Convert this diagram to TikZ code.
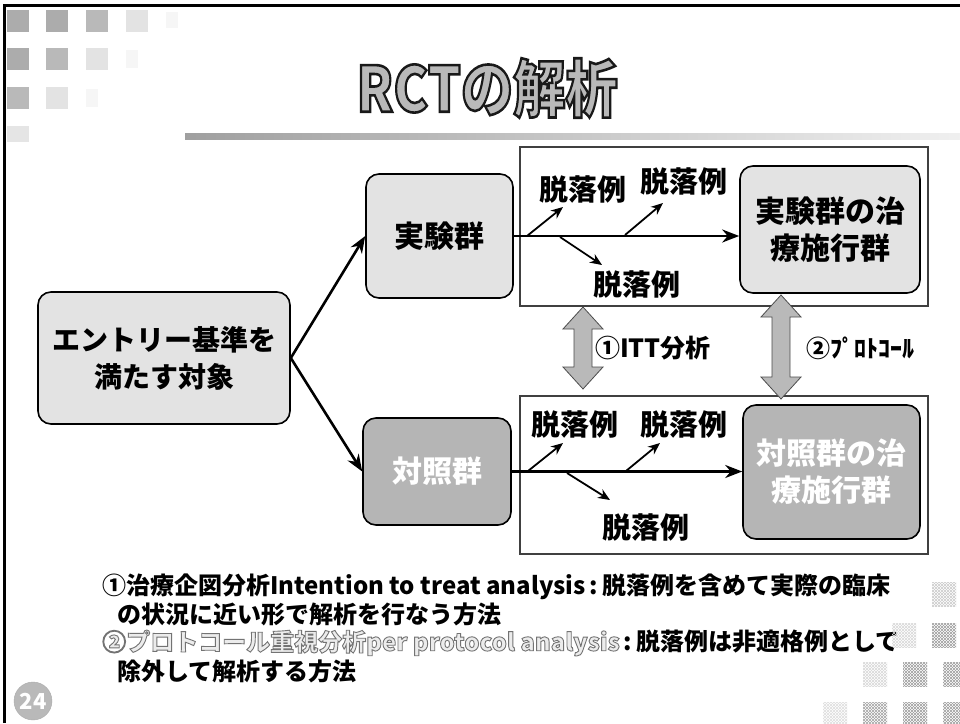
\documentclass[tikz,border=0pt]{standalone}
\usepackage{fontspec}
\usepackage{graphicx}
\setmainfont{Noto Sans CJK JP}
\usetikzlibrary{arrows.meta,patterns,calc}
\newcommand\outlinetxt[3]{% #1 stroke gray level, #2 stroke width, #3 text
  \special{pdf:literal direct 2 Tr #2 w #1 G}#3\special{pdf:literal direct 0 Tr 0.4 w}}
\newcommand\blockdbl[2]{%
  \draw[blockarr] (#1) -- ($(#1)+(20,22)$) -- ($(#1)+(9,22)$) -- ($(#2)+(9,-22)$) -- ($(#2)+(20,-22)$) -- (#2)
   -- ($(#2)+(-20,-22)$) -- ($(#2)+(-9,-22)$) -- ($(#1)+(-9,22)$) -- ($(#1)+(-20,22)$) -- cycle;}
\tikzset{
  lightbox/.style={draw=black, line width=1.6pt, rounded corners=13pt, fill=gray!22, align=center,
     inner sep=0pt, font=\fontsize{30}{37}\selectfont\bfseries},
  darkbox/.style={lightbox, fill=gray!58, text=white},
  framebox/.style={draw=black!75, line width=1.4pt},
  mainarr/.style={-{Stealth[length=17pt,width=13pt]}, line width=2.6pt},
  brarr/.style={-{Stealth[length=12pt,width=10pt]}, line width=1.8pt},
  droplbl/.style={inner sep=0pt, font=\fontsize{29}{29}\selectfont\bfseries},
  blockarr/.style={fill=gray!55, draw=gray!60!black, line width=0.8pt},
  notetext/.style={anchor=west, inner sep=0pt, font=\fontsize{24}{24}\selectfont\bfseries},
}
\begin{document}
\begin{tikzpicture}[x=1pt,y=-1pt]
\useasboundingbox (0,0) rectangle (960,723);
\fill[white] (0,0) rectangle (960,723);
% slide border
\draw[line width=2.5pt] (4.5,723) -- (4.5,5.5) -- (960,5.5);
% decorative squares top-left
\fill[gray!65] (7,10) rectangle ++(22,22);
\fill[gray!65] (46,10) rectangle ++(22,22);
\fill[gray!55] (86,10) rectangle ++(22,22);
\fill[gray!22] (126,10) rectangle ++(22,22);
\fill[gray!7] (166,12) rectangle ++(12,16);
\fill[gray!65] (7,48) rectangle ++(22,22);
\fill[gray!55] (46,48) rectangle ++(22,22);
\fill[gray!22] (86,48) rectangle ++(22,22);
\fill[gray!7] (126,50) rectangle ++(12,18);
\fill[gray!55] (7,87) rectangle ++(22,22);
\fill[gray!22] (46,87) rectangle ++(22,22);
\fill[gray!7] (86,89) rectangle ++(12,18);
\fill[gray!20] (7,126) rectangle ++(22,16);
% title
\node[inner sep=0pt, font=\fontsize{58}{58}\selectfont\bfseries, text=gray!55] (title) at (487,88)
  {\scalebox{0.9}[1.08]{\outlinetxt{0.1}{2.4}{RCTの解析}}};
\shade[left color=gray!75, right color=gray!12] (185,133) rectangle (960,139);
% frames
\draw[framebox] (520,147) rectangle (928,306);
\draw[framebox] (520,396) rectangle (928,554);
% nodes
\node[lightbox, minimum width=252pt, minimum height=132pt, font=\fontsize{28}{37}\selectfont\bfseries] (entry) at (164,358) {エントリー基準を\\満たす対象};
\node[lightbox, minimum width=147pt, minimum height=124pt] (exp) at (439.5,236) {実験群};
\node[darkbox, minimum width=148pt, minimum height=107pt] (ctl) at (437,471.5) {対照群};
\node[lightbox, minimum width=180pt, minimum height=127pt] (exptr) at (830,229.5) {実験群の治\\療施行群};
\node[darkbox, minimum width=177pt, minimum height=134pt] (ctltr) at (831.5,472) {対照群の治\\療施行群};
% entry arrows
\draw[mainarr] (entry.east) -- (exp.west);
\draw[mainarr] (entry.east) -- (ctl.west);
% main lines
\draw[mainarr] (exp.east) -- (exp.east -| exptr.west);
\draw[mainarr] (ctl.east) -- (ctl.east -| ctltr.west);
% top branches
\coordinate (a1) at (527,236); \coordinate (a1e) at (563,207);
\coordinate (a2) at (625,235); \coordinate (a2e) at (663,203);
\coordinate (a3) at (560,237); \coordinate (a3e) at (602,265);
\draw[brarr] (a1) -- (a1e);
\draw[brarr] (a2) -- (a2e);
\draw[brarr] (a3) -- (a3e);
\node[droplbl] (d1) at (583,190) {脱落例};
\node[droplbl] (d2) at (684,182) {脱落例};
\node[droplbl] (d3) at (637,285) {脱落例};
% bottom branches
\coordinate (b1) at (528,471); \coordinate (b1e) at (563,443);
\coordinate (b2) at (626,471); \coordinate (b2e) at (660,443);
\coordinate (b3) at (567,473); \coordinate (b3e) at (610,500);
\draw[brarr] (b1) -- (b1e);
\draw[brarr] (b2) -- (b2e);
\draw[brarr] (b3) -- (b3e);
\node[droplbl] (e1) at (575,425) {脱落例};
\node[droplbl] (e2) at (684,425) {脱落例};
\node[droplbl] (e3) at (646,527) {脱落例};
% double arrows
\coordinate (i1) at (583,307); \coordinate (i2) at (583,389);
\blockdbl{i1}{i2}
\coordinate (p1) at (781,295); \coordinate (p2) at (781,399);
\blockdbl{p1}{p2}
\node[inner sep=0pt, font=\fontsize{25}{25}\selectfont\bfseries] (itt) at (653,348) {①ITT分析};
\node[inner sep=0pt, font=\fontsize{24}{24}\selectfont\bfseries] (pp) at (860,348) {②ﾌﾟﾛﾄｺｰﾙ};
% notes
\node[notetext] (n1) at (102,587) {①治療企図分析Intention to treat analysis\,:\,脱落例を含めて実際の臨床};
\node[notetext] (n2) at (117,614) {の状況に近い形で解析を行なう方法};
\node[notetext] (n3) at (102,643) {\textcolor{gray!15}{\outlinetxt{0.45}{0.9}{②プロトコール重視分析per protocol analysis}}\,:\,脱落例は非適格例として};
\node[notetext] (n4) at (117,671) {除外して解析する方法};
% page number
\node[circle, fill=gray!55, draw=gray!65, minimum size=38pt, inner sep=0pt, text=white,
  font=\fontsize{22}{22}\selectfont\bfseries] (pg) at (33,701) {24};
% hatched squares bottom-right
\foreach \x/\y/\c in {932/582/40, 892/623/30, 932/623/75, 863/662/30, 903/662/75, 943/662/75,
   823/702/25, 863/702/70, 903/702/75, 943/702/75} {
  \fill[pattern=north east lines, pattern color=gray!\c] (\x,\y) rectangle ++(24,24);
  \fill[pattern=north west lines, pattern color=gray!\c] (\x,\y) rectangle ++(24,24);
}
\end{tikzpicture}
\end{document}
